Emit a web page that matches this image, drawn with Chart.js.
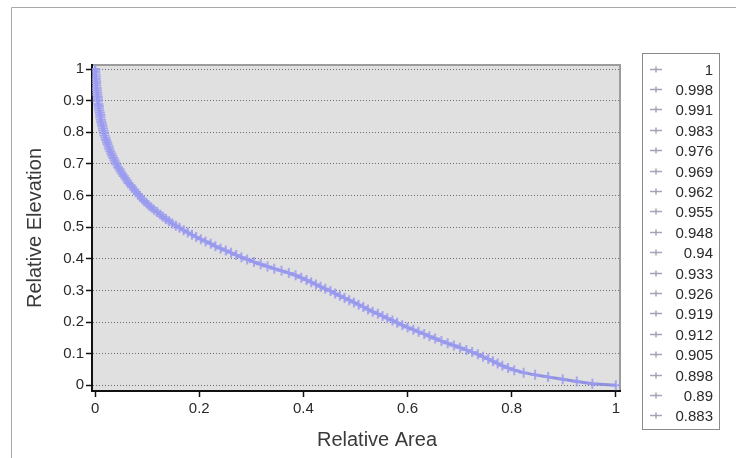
<!DOCTYPE html>
<html>
<head>
<meta charset="utf-8">
<script src="https://cdn.jsdelivr.net/npm/chart.js@4.4.1/dist/chart.umd.min.js"></script>
<style>
  html, body { margin: 0; padding: 0; background: #fff; }
  #wrap { position: relative; width: 736px; height: 458px; }
</style>
</head>
<body>
<div id="wrap"><canvas id="hypso" width="736" height="458"></canvas></div>
<script>
// --- DATA ---
const relElevation = [
  1, 0.998, 0.991, 0.983, 0.976, 0.969, 0.962, 0.955, 0.948, 0.94, 0.933, 0.926, 0.919, 0.912, 0.905, 0.898, 0.89, 0.883,
  0.876, 0.869, 0.862, 0.855, 0.848, 0.84, 0.833, 0.826, 0.819, 0.812, 0.805, 0.798, 0.79, 0.783, 0.776, 0.769, 0.762, 0.755,
  0.748, 0.74, 0.733, 0.726, 0.719, 0.712, 0.705, 0.698, 0.69, 0.683, 0.676, 0.669, 0.662, 0.655, 0.648, 0.64, 0.633, 0.626,
  0.619, 0.612, 0.605, 0.598, 0.59, 0.583, 0.576, 0.569, 0.562, 0.555, 0.548, 0.54, 0.533, 0.526, 0.519, 0.512, 0.505, 0.498,
  0.49, 0.483, 0.476, 0.469, 0.462, 0.455, 0.448, 0.44, 0.433, 0.426, 0.419, 0.412, 0.405, 0.398, 0.39, 0.383, 0.376, 0.369,
  0.362, 0.355, 0.348, 0.34, 0.333, 0.326, 0.319, 0.312, 0.305, 0.298, 0.29, 0.283, 0.276, 0.269, 0.262, 0.255, 0.248, 0.24,
  0.233, 0.226, 0.219, 0.212, 0.205, 0.198, 0.19, 0.183, 0.176, 0.169, 0.162, 0.155, 0.148, 0.14, 0.133, 0.126, 0.119, 0.112,
  0.105, 0.098, 0.09, 0.083, 0.076, 0.069, 0.062, 0.055, 0.048, 0.04, 0.033, 0.026, 0.019, 0.012, 0.005, 0
];
const relArea = [
  0.000, 0.000, 0.000, 0.001, 0.001, 0.001, 0.002, 0.002, 0.002, 0.003, 0.003, 0.004, 0.004, 0.005, 0.005, 0.005, 0.006, 0.007,
  0.007, 0.008, 0.009, 0.010, 0.010, 0.011, 0.012, 0.013, 0.014, 0.015, 0.016, 0.017, 0.018, 0.020, 0.021, 0.023, 0.024, 0.026,
  0.027, 0.029, 0.031, 0.033, 0.035, 0.037, 0.039, 0.041, 0.044, 0.047, 0.049, 0.052, 0.055, 0.058, 0.061, 0.064, 0.068, 0.071,
  0.075, 0.078, 0.082, 0.086, 0.090, 0.094, 0.099, 0.103, 0.108, 0.113, 0.119, 0.125, 0.130, 0.136, 0.142, 0.148, 0.155, 0.162,
  0.170, 0.178, 0.186, 0.194, 0.203, 0.212, 0.222, 0.231, 0.241, 0.251, 0.261, 0.271, 0.281, 0.292, 0.305, 0.318, 0.331, 0.344,
  0.358, 0.372, 0.385, 0.396, 0.406, 0.415, 0.424, 0.433, 0.442, 0.452, 0.461, 0.470, 0.479, 0.488, 0.497, 0.506, 0.515, 0.524,
  0.533, 0.543, 0.552, 0.561, 0.571, 0.580, 0.590, 0.600, 0.611, 0.621, 0.632, 0.642, 0.653, 0.665, 0.677, 0.689, 0.701, 0.713,
  0.724, 0.735, 0.745, 0.755, 0.764, 0.773, 0.782, 0.793, 0.805, 0.823, 0.845, 0.870, 0.898, 0.925, 0.955, 1.000
];
const xTickValues = [0, 0.2, 0.4, 0.6, 0.8, 1];
const yTickValues = [0, 0.1, 0.2, 0.3, 0.4, 0.5, 0.6, 0.7, 0.8, 0.9, 1];
const legendLabels = ['1', '0.998', '0.991', '0.983', '0.976', '0.969', '0.962', '0.955', '0.948',
                      '0.94', '0.933', '0.926', '0.919', '0.912', '0.905', '0.898', '0.89', '0.883'];
const xTitle = 'Relative Area';
const yTitle = 'Relative Elevation';

const FONT = '"Liberation Sans", Arial, sans-serif';

// --- PLOT BACKGROUND, FRAME, TITLES, LEGEND ---
const decorPlugin = {
  id: 'decor',
  beforeDraw(chart) {
    const { ctx, chartArea: a } = chart;
    ctx.save();
    ctx.fillStyle = '#fff';
    ctx.fillRect(0, 0, chart.width, chart.height);
    // outer frame (top + left only)
    ctx.strokeStyle = '#a8a8a8';
    ctx.lineWidth = 1;
    ctx.beginPath();
    ctx.moveTo(11.5, chart.height);
    ctx.lineTo(11.5, 7.5);
    ctx.lineTo(chart.width, 7.5);
    ctx.stroke();
    // plot area
    ctx.fillStyle = '#e0e0e0';
    ctx.fillRect(a.left, a.top, a.right - a.left, a.bottom - a.top);
    ctx.strokeStyle = '#9c9c9c';
    ctx.lineWidth = 2;
    ctx.strokeRect(a.left, a.top, a.right - a.left, a.bottom - a.top);
    ctx.restore();
  },
  afterDraw(chart) {
    const { ctx } = chart;
    ctx.save();
    // axis titles
    ctx.fillStyle = '#3a3a3a';
    ctx.font = '20px ' + FONT;
    ctx.textAlign = 'center';
    ctx.textBaseline = 'middle';
    ctx.fillText(xTitle, 377, 440);
    ctx.translate(35, 228);
    ctx.rotate(-Math.PI / 2);
    ctx.fillText(yTitle, 0, 0);
    ctx.restore();

    // legend box
    ctx.save();
    ctx.strokeStyle = '#8a8a8a';
    ctx.lineWidth = 1;
    ctx.strokeRect(642.5, 53.5, 77, 376);
    ctx.font = '15px ' + FONT;
    ctx.textAlign = 'right';
    ctx.textBaseline = 'middle';
    legendLabels.forEach((t, i) => {
      const y = Math.round(68.5 + i * 20.4) + 0.5;
      ctx.strokeStyle = '#a4a4b8';
      ctx.lineWidth = 1.5;
      ctx.beginPath();
      ctx.moveTo(650, y);
      ctx.lineTo(662, y);
      ctx.moveTo(656, y - 3);
      ctx.lineTo(656, y + 3);
      ctx.stroke();
      ctx.fillStyle = '#2a2a2a';
      ctx.fillText(t, 713, y + 1);
    });
    ctx.restore();
  }
};

// --- CHART ---
const points = relArea.map((x, i) => ({ x: x, y: relElevation[i] }));

new Chart(document.getElementById('hypso'), {
  type: 'scatter',
  data: {
    datasets: [{
      label: 'Relative Elevation',
      data: points,
      showLine: true,
      borderColor: 'rgba(136,136,226,0.9)',
      borderWidth: 3,
      pointStyle: 'cross',
      pointRadius: 5,
      pointBorderWidth: 2,
      pointBorderColor: 'rgba(155,155,240,0.85)',
      pointBackgroundColor: 'rgba(155,155,240,0.85)'
    }]
  },
  options: {
    responsive: false,
    animation: false,
    devicePixelRatio: 1,
    layout: { padding: { left: 62, right: 116, top: 65, bottom: 37 } },
    plugins: { legend: { display: false }, tooltip: { enabled: false } },
    scales: {
      x: {
        type: 'linear',
        min: -0.006,
        max: 1.008,
        afterBuildTicks: s => { s.ticks = xTickValues.map(v => ({ value: v })); },
        afterFit: s => { s.height = 30; },
        grid: { drawOnChartArea: false, drawTicks: true, tickLength: 6, tickColor: '#111', tickWidth: 1.5 },
        border: { display: true, color: '#111', width: 2 },
        ticks: {
          padding: 3,
          color: '#2a2a2a',
          font: { family: FONT, size: 15 },
          maxRotation: 0,
          callback: v => String(v)
        }
      },
      y: {
        type: 'linear',
        min: -0.018,
        max: 1.013,
        afterBuildTicks: s => { s.ticks = yTickValues.map(v => ({ value: v })); },
        afterFit: s => { s.width = 30; },
        grid: { color: '#6e6e6e', lineWidth: 1, drawTicks: true, tickLength: 6, tickColor: '#111', tickWidth: 1.5 },
        border: { display: true, color: '#111', width: 2, dash: [1, 2] },
        ticks: {
          padding: 2,
          color: '#2a2a2a',
          font: { family: FONT, size: 15 },
          callback: v => String(v)
        }
      }
    }
  },
  plugins: [decorPlugin]
});
</script>
</body>
</html>
